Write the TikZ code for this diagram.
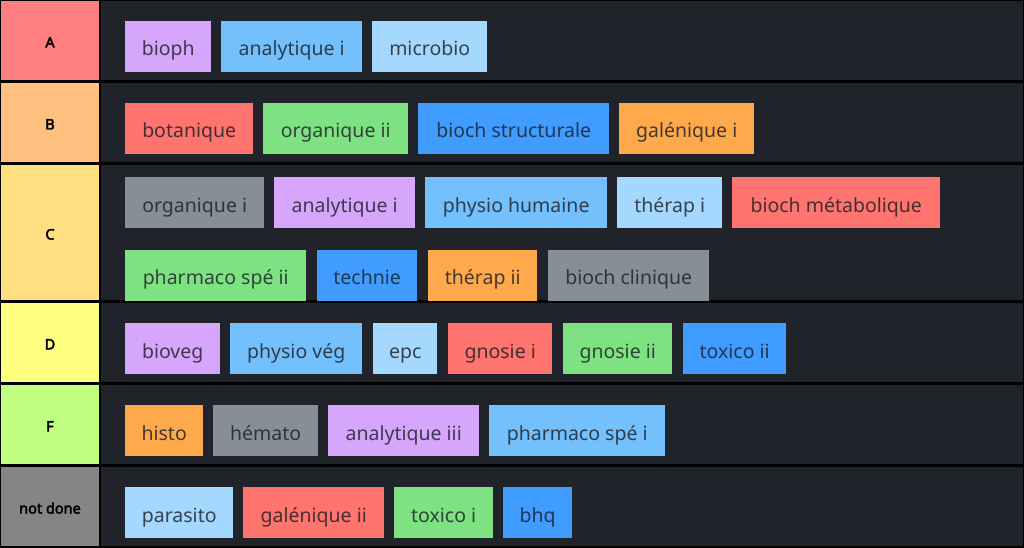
\documentclass[tikz,border=0pt]{standalone}
\usepackage{fontspec}
\setmainfont{Noto Sans}[AutoFakeBold=3]
\usepackage{xcolor}

\definecolor{tierA}{HTML}{FF7F7F}
\definecolor{tierB}{HTML}{FFBF7F}
\definecolor{tierC}{HTML}{FFDF7F}
\definecolor{tierD}{HTML}{FFFF7F}
\definecolor{tierF}{HTML}{BFFF7F}
\definecolor{tierN}{HTML}{858585}
\definecolor{rowbg}{HTML}{202329}
\definecolor{itemtext}{HTML}{1A1D24}
\definecolor{lilac}{HTML}{D5A6FC}
\definecolor{sky}{HTML}{74C0FC}
\definecolor{pale}{HTML}{A5D8FF}
\definecolor{coral}{HTML}{FF746E}
\definecolor{mint}{HTML}{7EE283}
\definecolor{azure}{HTML}{409CFF}
\definecolor{apricot}{HTML}{FFA94D}
\definecolor{slate}{HTML}{868E96}

\begin{document}
\begin{tikzpicture}[x=1pt, y=-1pt,
    tier/.style={inner sep=0pt, text=black, font=\fontsize{14.5}{17}\selectfont\bfseries,
        text height=15pt, text depth=1pt},
    item/.style={anchor=west, inner sep=0pt, minimum height=51pt, text=itemtext,
        text opacity=0.8, font=\fontsize{19.5}{23}\selectfont, text height=19pt, text depth=0pt}]

    % Frame
    \fill[black] (0,0) rectangle (1024,548);
    \useasboundingbox (0,0) rectangle (1024,548);

    % Rows
    \fill[tierA] (1,1) rectangle (99,80);
    \fill[rowbg] (101,1) rectangle (1023,80);
    \fill[tierB] (1,83) rectangle (99,162);
    \fill[rowbg] (101,83) rectangle (1023,162);
    \fill[tierC] (1,165) rectangle (99,300);
    \fill[rowbg] (101,165) rectangle (1023,300);
    \fill[tierD] (1,303) rectangle (99,382);
    \fill[rowbg] (101,303) rectangle (1023,382);
    \fill[tierF] (1,385) rectangle (99,464);
    \fill[rowbg] (101,385) rectangle (1023,464);
    \fill[tierN] (1,467) rectangle (99,546);
    \fill[rowbg] (101,467) rectangle (1023,546);

    % Tier labels
    \node[tier] (labelA) at (50,40.5) {A};
    \node[tier] (labelB) at (50,122.5) {B};
    \node[tier] (labelC) at (50,232.5) {C};
    \node[tier] (labelD) at (50,342.5) {D};
    \node[tier] (labelF) at (50,424.5) {F};
    \node[tier] (labelN) at (50,506.5) {not done};

    % A
    \node[item, fill=lilac, minimum width=86pt] (bioph) at (125,46.5) {bioph};
    \node[item, fill=sky, minimum width=141pt] (analytiqueA) at (221,46.5) {analytique i};
    \node[item, fill=pale, minimum width=115pt] (microbio) at (372,46.5) {microbio};

    % B
    \node[item, fill=coral, minimum width=128pt] (botanique) at (125,128.5) {botanique};
    \node[item, fill=mint, minimum width=145pt] (organiqueII) at (263,128.5) {organique ii};
    \node[item, fill=azure, minimum width=191pt] (biochStruct) at (418,128.5) {bioch structurale};
    \node[item, fill=apricot, minimum width=135pt] (galeniqueI) at (619,128.5) {galénique i};

    % C
    \node[item, fill=slate, minimum width=139pt] (organiqueI) at (125,202.5) {organique i};
    \node[item, fill=lilac, minimum width=141pt] (analytiqueC) at (274,202.5) {analytique i};
    \node[item, fill=sky, minimum width=182pt] (physioHum) at (425,202.5) {physio humaine};
    \node[item, fill=pale, minimum width=105pt] (therapI) at (617,202.5) {thérap i};
    \node[item, fill=coral, minimum width=208pt] (biochMeta) at (732,202.5) {bioch métabolique};
    \node[item, fill=mint, minimum width=181pt] (pharmacoII) at (125,275) {pharmaco spé ii};
    \node[item, fill=azure, minimum width=100pt] (technie) at (317,275) {technie};
    \node[item, fill=apricot, minimum width=109pt] (therapII) at (428,275) {thérap ii};
    \node[item, fill=slate, minimum width=161pt] (biochClin) at (548,275) {bioch clinique};

    % D
    \node[item, fill=lilac, minimum width=95pt] (bioveg) at (125,348.5) {bioveg};
    \node[item, fill=sky, minimum width=132pt] (physioVeg) at (230,348.5) {physio vég};
    \node[item, fill=pale, minimum width=64pt] (epc) at (373,348.5) {epc};
    \node[item, fill=coral, minimum width=104pt] (gnosieI) at (448,348.5) {gnosie i};
    \node[item, fill=mint, minimum width=109pt] (gnosieII) at (563,348.5) {gnosie ii};
    \node[item, fill=azure, minimum width=103pt] (toxicoII) at (683,348.5) {toxico ii};

    % F
    \node[item, fill=apricot, minimum width=78pt] (histo) at (125,430.5) {histo};
    \node[item, fill=slate, minimum width=105pt] (hemato) at (213,430.5) {hémato};
    \node[item, fill=lilac, minimum width=151pt] (analytiqueIII) at (328,430.5) {analytique iii};
    \node[item, fill=sky, minimum width=176pt] (pharmacoI) at (489,430.5) {pharmaco spé i};

    % not done
    \node[item, fill=pale, minimum width=108pt] (parasito) at (125,512.5) {parasito};
    \node[item, fill=coral, minimum width=141pt] (galeniqueII) at (243,512.5) {galénique ii};
    \node[item, fill=mint, minimum width=99pt] (toxicoI) at (394,512.5) {toxico i};
    \node[item, fill=azure, minimum width=69pt] (bhq) at (503,512.5) {bhq};
\end{tikzpicture}
\end{document}
